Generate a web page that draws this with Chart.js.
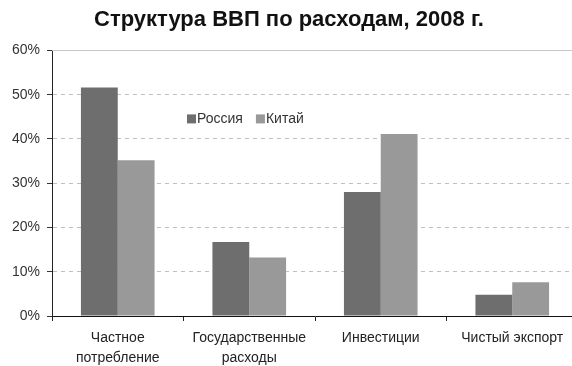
<!DOCTYPE html>
<html>
<head>
<meta charset="utf-8">
<script src="https://cdn.jsdelivr.net/npm/chart.js@4"></script>
<style>
html,body{margin:0;padding:0;background:#fff;overflow:hidden;}
#wrap{position:relative;width:578px;height:366px;}
</style>
</head>
<body>
<div id="wrap"><canvas id="c"></canvas></div>
<script>
const categories = [["Частное","потребление"],["Государственные","расходы"],["Инвестиции"],["Чистый экспорт"]];
const russia = [51.6, 16.7, 28.0, 4.8];
const china = [35.2, 13.2, 41.1, 7.6];
const seriesNames = ["Россия", "Китай"];
const yTicks = [0, 10, 20, 30, 40, 50, 60];
const titleText = "Структура ВВП по расходам, 2008 г.";

const FONT = "'Liberation Sans', Arial, sans-serif";

const topLine = {
  id: 'topLine',
  beforeDatasetsDraw(chart) {
    const {ctx, chartArea, scales} = chart;
    const y = Math.round(scales.y.getPixelForValue(yTicks[yTicks.length-1])) + 0.5;
    ctx.save();
    ctx.strokeStyle = '#c8c8c8';
    ctx.lineWidth = 1;
    ctx.beginPath();
    ctx.moveTo(chartArea.left, y);
    ctx.lineTo(chartArea.right, y);
    ctx.stroke();
    ctx.restore();
  }
};

const innerLegend = {
  id: 'innerLegend',
  afterDraw(chart) {
    const {ctx, chartArea} = chart;
    let x = chartArea.left + 135;
    const y = chartArea.top + 68;
    ctx.save();
    ctx.font = "14px " + FONT;
    ctx.textBaseline = 'middle';
    chart.data.datasets.forEach((ds) => {
      ctx.fillStyle = ds.backgroundColor;
      ctx.fillRect(x, y - 4, 9, 9);
      ctx.fillStyle = '#333';
      ctx.fillText(ds.label, x + 10, y + 1);
      x += 10 + ctx.measureText(ds.label).width + 13;
    });
    ctx.restore();
  }
};

new Chart(document.getElementById('c'), {
  type: 'bar',
  data: {
    labels: categories,
    datasets: [
      {label: seriesNames[0], data: russia, backgroundColor: '#6e6e6e', categoryPercentage: 0.56, barPercentage: 1.0},
      {label: seriesNames[1], data: china, backgroundColor: '#999999', categoryPercentage: 0.56, barPercentage: 1.0}
    ]
  },
  options: {
    responsive: true,
    maintainAspectRatio: false,
    animation: false,
    layout: {padding: {top: 0, right: 0, bottom: 0, left: 0}},
    plugins: {
      legend: {display: false},
      tooltip: {enabled: false},
      title: {
        display: true,
        text: titleText,
        color: '#111',
        font: {family: FONT, size: 22, weight: 'bold'},
        padding: {top: 7, bottom: 17}
      }
    },
    scales: {
      x: {
        afterFit(s) { s.height = 50; },
        grid: {display: true, offset: true, drawOnChartArea: false, drawTicks: true, tickLength: 5, color: '#222'},
        border: {display: true, color: '#111', width: 1},
        ticks: {color: '#222', font: {family: FONT, size: 14, lineHeight: 1.43}, padding: 7, maxRotation: 0, autoSkip: false}
      },
      y: {
        min: 0, max: 60,
        afterFit(s) { s.width = 52; },
        afterBuildTicks(s) { s.ticks = yTicks.map(v => ({value: v})); },
        grid: {color: '#c0c0c0', tickColor: '#333', tickLength: 5, drawTicks: true},
        border: {display: true, color: '#222', width: 1, dash: [4, 4]},
        ticks: {color: '#333', font: {family: FONT, size: 14}, padding: 7, callback: v => v + '%'}
      }
    }
  },
  plugins: [topLine, innerLegend]
});
</script>
</body>
</html>
